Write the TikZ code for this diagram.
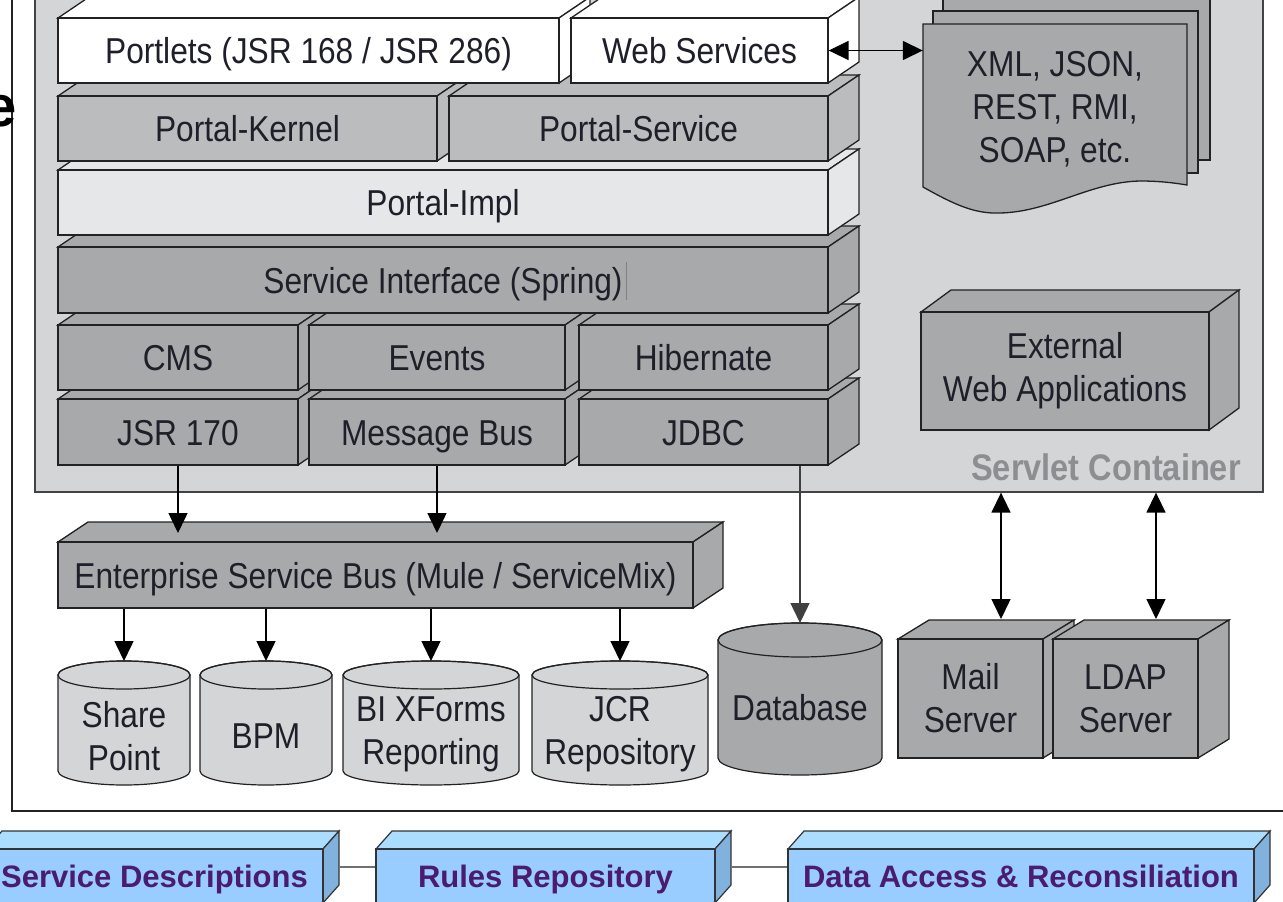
\documentclass[tikz,border=0pt]{standalone}
\usepackage{fontspec}
\setmainfont{Liberation Sans}[FakeStretch=0.88]
\newfontfamily\blueFont{Liberation Sans}
\usetikzlibrary{arrows.meta}
\definecolor{scfill}{HTML}{D4D5D7}
\definecolor{dk}{HTML}{A8A9AB}
\definecolor{mid}{HTML}{BBBCBE}
\definecolor{lt}{HTML}{E6E7E8}
\definecolor{txt}{HTML}{1F1F2A}
\definecolor{edge}{HTML}{222222}
\definecolor{bfront}{HTML}{99CCFF}
\definecolor{btop}{HTML}{AADDFF}
\definecolor{bside}{HTML}{80B2DD}
\definecolor{purp}{HTML}{4B1C6E}
\definecolor{sclbl}{HTML}{8C8E91}
\definecolor{linkgray}{HTML}{707070}

% 3D box: #1 name, #2 x1, #3 y1, #4 x2, #5 y2, #6 front fill, #7 top fill, #8 side fill, #9 text
\newcommand\cubeBox[9]{%
  \filldraw[facestyle, fill=#7] (#2,#3) -- ({#2+\bdx},{#3+\bdy}) -- ({#4+\bdx},{#3+\bdy}) -- (#4,#3) -- cycle;
  \filldraw[facestyle, fill=#8] (#4,#3) -- ({#4+\bdx},{#3+\bdy}) -- ({#4+\bdx},{#5+\bdy}) -- (#4,#5) -- cycle;
  \node[facestyle, fill=#6, lbl, cubetext, minimum width={(#4)-(#2)}, minimum height={(#5)-(#3)}] (#1) at ({((#2)+(#4))/2},{((#3)+(#5))/2}) {#9};
}
% cylinder: #1 name, #2 cx, #3 rx, #4 top centre y, #5 bottom centre y, #6 ry, #7 fill
\newcommand\cylShape[7]{%
  \filldraw[facestyle, line width=1.2pt, fill=#7] ({#2-#3},#4) -- ({#2-#3},#5)
    arc[start angle=180, end angle=360, x radius=#3pt, y radius=#6pt]
    -- ({#2+#3},#4)
    arc[start angle=0, end angle=180, x radius=#3pt, y radius=#6pt] -- cycle;
  \draw[facestyle, line width=1.2pt] (#2,#4) ellipse [x radius=#3pt, y radius=#6pt];
  \node[inner sep=0pt, outer sep=0pt, minimum width={2*(#3)}, minimum height={(#5)-(#4)+2*(#6)}] (#1) at ({#2},{((#4)+(#5))/2}) {};
}

\begin{document}
\begin{tikzpicture}[x=1pt, y=-1pt,
  facestyle/.style={draw=edge, line width=1.3pt, line join=miter},
  lbl/.style={font=\fontsize{36}{43}\selectfont, text=txt, align=center, inner sep=0pt},
  cubetext/.style={text height=26pt, text depth=0pt},
  arr/.style={-{Triangle[length=20pt,width=19pt]}, line width=1.5pt, draw=black},
  dbl/.style={{Triangle[length=20pt,width=19pt]}-{Triangle[length=20pt,width=19pt]}, line width=1.5pt, draw=black}]

\clip (0,0) rectangle (1283,902);
\fill[white] (0,0) rectangle (1283,902);

% outer frame
\draw[line width=2pt, edge] (12,-5) -- (12,811) -- (1290,811);

% cut-off title letter (cut by the picture edge, as in the reference)
\node[font=\blueFont\bfseries\fontsize{58}{60}\selectfont, anchor=base east, inner sep=0pt, text=black] (ecut) at (17,126) {e};

% servlet container
\node[draw=edge!85, line width=1.3pt, fill=scfill, minimum width=1228, minimum height=512, inner sep=0pt] (sc) at (649,236) {};
\node[font=\bfseries\fontsize{37}{40}\selectfont, text=sclbl, anchor=east, inner sep=0pt] (sclabel) at (1241,467) {Servlet Container};

% document stack
\filldraw[facestyle, fill=dk] (943,-5) rectangle (1210,160);
\filldraw[facestyle, fill=dk] (933,11) rectangle (1198,173);
\filldraw[facestyle, fill=dk] (923,24) -- (1187,24) -- (1187,185)
   .. controls (1175,183) and (1160,181) .. (1140,181)
   .. controls (1090,182) and (1050,212) .. (1000,213)
   .. controls (975,214) and (955,205) .. (923,187) -- cycle;
\node[lbl, minimum width=264, minimum height=150] (doc) at (1055,109) {XML, JSON,\\REST, RMI,\\SOAP, etc.};

% external web applications
\begin{scope}[cubetext/.style={}]
\def\bdx{30}\def\bdy{-22}
\cubeBox{ext}{921}{312}{1209}{430}{dk}{dk}{dk}{External\\Web Applications}
\end{scope}

% portal layers, bottom row first
\def\bdx{31}\def\bdy{-21}
\cubeBox{jsr}{58}{399}{298}{465}{dk}{dk}{dk}{JSR 170}
\cubeBox{mb}{309}{399}{565}{465}{dk}{dk}{dk}{Message Bus}
\cubeBox{jdbc}{579}{399}{828}{465}{dk}{dk}{dk}{JDBC}
\cubeBox{cms}{58}{325}{298}{390}{dk}{dk}{dk}{CMS}
\cubeBox{events}{309}{325}{565}{390}{dk}{dk}{dk}{Events}
\cubeBox{hib}{579}{325}{828}{390}{dk}{dk}{dk}{Hibernate}
\cubeBox{si}{58}{247}{828}{313}{dk}{dk}{dk}{Service Interface (Spring)}
\draw[line width=0.8pt, gray] (626,262) -- (626,300);
\cubeBox{pimpl}{58}{170}{828}{235}{lt}{lt}{lt}{Portal-Impl}
\cubeBox{pk}{58}{96}{437}{161}{mid}{mid}{mid}{Portal-Kernel}
\cubeBox{ps}{449}{96}{828}{161}{mid}{mid}{mid}{Portal-Service}
\cubeBox{portlets}{58}{18}{559}{83}{white}{white}{white}{Portlets (JSR 168 / JSR 286)}
\cubeBox{ws}{571}{18}{828}{83}{white}{white}{white}{Web Services}

\draw[dbl] (ws.east) -- (ws.east -| doc.west);

% enterprise service bus
\def\bdx{30}\def\bdy{-20}
\cubeBox{esb}{58}{542}{693}{608}{dk}{dk}{dk}{Enterprise Service Bus (Mule / ServiceMix)}
\coordinate (esbtop) at (375,533);
\draw[arr] (jsr.south) -- (jsr.south |- esbtop);
\draw[arr] (mb.south) -- (mb.south |- esbtop);

% repositories
\cylShape{sp}{124}{66}{675}{771}{14}{scfill}
\cylShape{bpm}{266}{66}{675}{771}{14}{scfill}
\cylShape{bi}{431}{88}{675}{771}{14}{scfill}
\cylShape{jcr}{620}{88}{675}{771}{14}{scfill}
\cylShape{db}{800}{82}{640}{758}{17}{dk}
\node[lbl] (spt) at (124,736) {Share\\Point};
\node[lbl] (bpmt) at (266,736) {BPM};
\node[lbl] (bit) at (431,734) {BI XForms\\Reporting};
\node[lbl] (jcrt) at (620,734) {JCR\\Repository};
\node[lbl] (dbt) at (800,708) {Database};

\draw[arr] (esb.south -| sp.north) -- (sp.north);
\draw[arr] (esb.south -| bpm.north) -- (bpm.north);
\draw[arr] (esb.south -| bi.north) -- (bi.north);
\draw[arr] (esb.south -| jcr.north) -- (jcr.north);
\draw[arr, draw=black!75] (jdbc.south -| db.north) -- (db.north);

% servers
\begin{scope}[cubetext/.style={}]
\def\bdx{31}\def\bdy{-19}
\cubeBox{mail}{898}{639}{1043}{758}{dk}{dk}{dk}{Mail\\Server}
\cubeBox{ldap}{1053}{639}{1198}{758}{dk}{dk}{dk}{LDAP\\Server}
\end{scope}
\coordinate (mailtop) at (1001,619);
\coordinate (ldaptop) at (1156,619);
\draw[dbl] (mailtop |- sc.south) -- (mailtop);
\draw[dbl] (ldaptop |- sc.south) -- (ldaptop);

% bottom blue boxes
\begin{scope}[lbl/.style={font=\blueFont\bfseries\fontsize{31}{36}\selectfont, text=purp, align=center, inner sep=0pt},
              cubetext/.style={text height=22pt, text depth=0pt},
              facestyle/.style={draw=black!80, line width=1.2pt, line join=miter}]
\def\bdx{16}\def\bdy{-18}
\cubeBox{sd}{-14}{849}{323}{903}{bfront}{btop}{bside}{Service Descriptions}
\cubeBox{rr}{376}{849}{715}{903}{bfront}{btop}{bside}{Rules Repository}
\cubeBox{da}{788}{849}{1254}{903}{bfront}{btop}{bside}{Data Access \& Reconsiliation}
\end{scope}
\draw[line width=2.5pt, linkgray] ([xshift=16pt,yshift=9pt]sd.east) -- ([yshift=9pt]sd.east -| rr.west);
\draw[line width=2.5pt, linkgray] ([xshift=16pt,yshift=9pt]rr.east) -- ([yshift=9pt]rr.east -| da.west);
\end{tikzpicture}
\end{document}
